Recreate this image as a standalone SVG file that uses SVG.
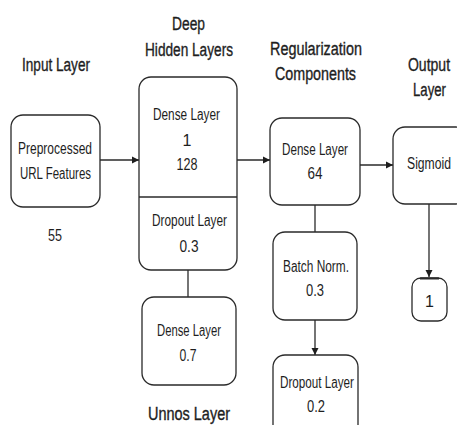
<svg xmlns="http://www.w3.org/2000/svg" width="457" height="425" viewBox="0 0 457 425">
<style>
.box{fill:#fff;stroke:#2a2a2a;stroke-width:1.3}
.ln{fill:none;stroke:#2a2a2a;stroke-width:1.3}
text{font-family:"Liberation Sans",Arial,sans-serif;fill:#1e1e1e;text-anchor:middle}
.t{font-size:18px;stroke:#1e1e1e;stroke-width:0.35}
.n{font-size:16px}
</style>
<defs>
<marker id="ah" markerWidth="8" markerHeight="8" refX="7" refY="4" orient="auto" markerUnits="userSpaceOnUse">
<path d="M0,0.5 L7,4 L0,7.5 Z" fill="#1e1e1e"/>
</marker>
</defs>
<rect width="457" height="425" fill="#fff"/>
<g id="titles">
<text class="t" x="56" y="71" textLength="68" lengthAdjust="spacingAndGlyphs">Input Layer</text>
<text class="t" x="188.5" y="30" textLength="33" lengthAdjust="spacingAndGlyphs">Deep</text>
<text class="t" x="189" y="56" textLength="88" lengthAdjust="spacingAndGlyphs">Hidden Layers</text>
<text class="t" x="316" y="55" textLength="92" lengthAdjust="spacingAndGlyphs">Regularization</text>
<text class="t" x="315.5" y="80" textLength="81" lengthAdjust="spacingAndGlyphs">Components</text>
<text class="t" transform="translate(429,71) scale(0.78,1)" x="0" y="0">Output</text>
<text class="t" x="429.5" y="96" textLength="33" lengthAdjust="spacingAndGlyphs">Layer</text>
<text class="t" x="189" y="420" textLength="82" lengthAdjust="spacingAndGlyphs">Unnos Layer</text>
<text class="n" x="55" y="241" textLength="14" lengthAdjust="spacingAndGlyphs">55</text>
</g>
<g id="connectors">
<line class="ln" x1="100" y1="160" x2="139" y2="160" marker-end="url(#ah)"/>
<line class="ln" x1="237" y1="160" x2="270" y2="160" marker-end="url(#ah)"/>
<line class="ln" x1="360" y1="165" x2="393" y2="165" marker-end="url(#ah)"/>
<line class="ln" x1="188" y1="270" x2="188" y2="297"/>
<line class="ln" x1="315" y1="205" x2="315" y2="232"/>
<line class="ln" x1="315" y1="320" x2="315" y2="355" marker-end="url(#ah)"/>
<line class="ln" x1="429" y1="204" x2="429" y2="277" marker-end="url(#ah)"/>
</g>
<g id="input">
<rect class="box" x="11" y="115" width="89" height="92" rx="12"/>
<text class="n" x="55" y="154" textLength="74" lengthAdjust="spacingAndGlyphs">Preprocessed</text>
<text class="n" x="55.5" y="179" textLength="71" lengthAdjust="spacingAndGlyphs">URL Features</text>
</g>
<g id="deep">
<rect class="box" x="139" y="77" width="98" height="193" rx="12"/>
<line class="ln" x1="139" y1="197" x2="237" y2="197"/>
<text class="n" x="186.5" y="120" textLength="67" lengthAdjust="spacingAndGlyphs">Dense Layer</text>
<text class="n" x="187" y="146">1</text>
<text class="n" x="187" y="170" textLength="21" lengthAdjust="spacingAndGlyphs">128</text>
<text class="n" x="189.5" y="226" textLength="75" lengthAdjust="spacingAndGlyphs">Dropout Layer</text>
<text class="n" x="189" y="252" textLength="19" lengthAdjust="spacingAndGlyphs">0.3</text>
</g>
<g id="dense07">
<rect class="box" x="142" y="297" width="94" height="88" rx="12"/>
<text class="n" x="189" y="336" textLength="64" lengthAdjust="spacingAndGlyphs">Dense Layer</text>
<text class="n" x="188" y="361" textLength="17" lengthAdjust="spacingAndGlyphs">0.7</text>
</g>
<g id="dense64">
<rect class="box" x="270" y="118" width="90" height="87" rx="12"/>
<text class="n" x="315" y="155" textLength="66" lengthAdjust="spacingAndGlyphs">Dense Layer</text>
<text class="n" x="315" y="179" textLength="15" lengthAdjust="spacingAndGlyphs">64</text>
</g>
<g id="batch">
<rect class="box" x="273" y="232" width="84" height="88" rx="12"/>
<text class="n" x="316" y="272" textLength="66" lengthAdjust="spacingAndGlyphs">Batch Norm.</text>
<text class="n" x="315" y="296" textLength="18" lengthAdjust="spacingAndGlyphs">0.3</text>
</g>
<g id="dropout02">
<rect class="box" x="273" y="355" width="85" height="85" rx="12"/>
<text class="n" x="317" y="388" textLength="74" lengthAdjust="spacingAndGlyphs">Dropout Layer</text>
<text class="n" x="316" y="412" textLength="18" lengthAdjust="spacingAndGlyphs">0.2</text>
</g>
<g id="sigmoid">
<rect class="box" x="393" y="127" width="75" height="77" rx="12"/>
<text class="n" transform="translate(429,169) scale(0.76,1)" x="0" y="0">Sigmoid</text>
</g>
<g id="out1">
<rect class="box" x="412" y="278" width="35" height="43" rx="9"/>
<line x1="420" y1="278.5" x2="439" y2="278.5" stroke="#2a2a2a" stroke-width="2"/>
<text class="n" x="429.5" y="307">1</text>
</g>
</svg>
